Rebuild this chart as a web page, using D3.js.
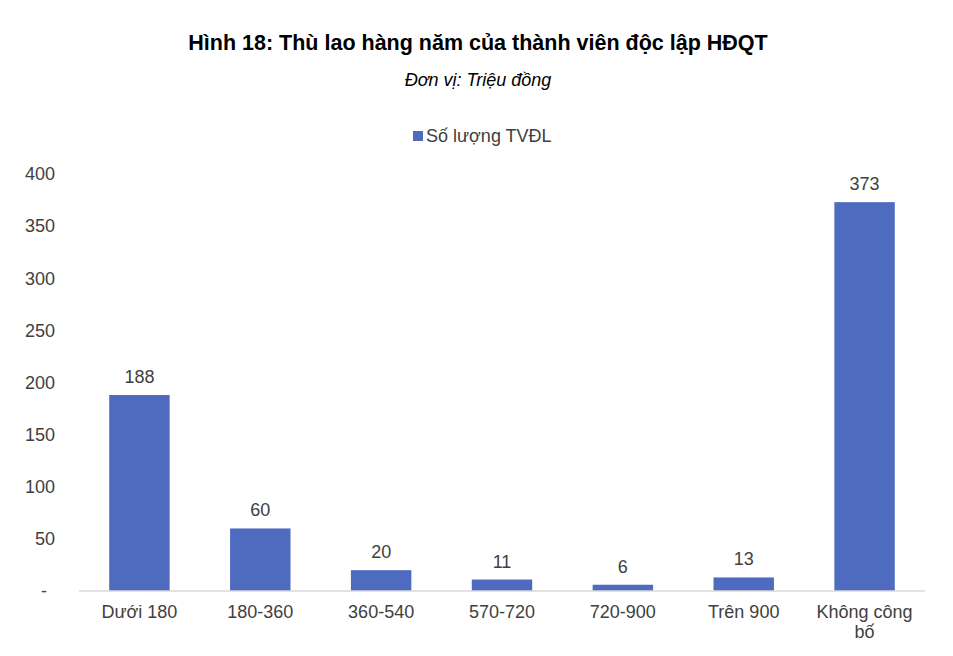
<!DOCTYPE html>
<html lang="vi">
<head>
<meta charset="UTF-8">
<title>Hình 18</title>
<script src="https://d3js.org/d3.v7.min.js"></script>
<style>
  body { margin: 0; background: #fff; }
  text { font-family: "Liberation Sans", Arial, sans-serif; }
</style>
</head>
<body>
<script>
// Dữ liệu
var nhom = ["Dưới 180", "180-360", "360-540", "570-720", "720-900", "Trên 900", "Không công bố"];
var soLuong = [188, 60, 20, 11, 6, 13, 373];
var mocTrucY = [0, 50, 100, 150, 200, 250, 300, 350, 400];

var ancho = 953, alto = 656;
var trai = 79, phai = 925, tren = 174, duoi = 591;
var coChu = 18;

var svg = d3.select("body").append("svg")
  .attr("width", ancho).attr("height", alto);

// Tiêu đề
svg.append("text")
  .attr("x", 478).attr("y", 50)
  .attr("text-anchor", "middle")
  .attr("font-size", 21.5).attr("font-weight", "bold")
  .attr("fill", "#000")
  .text("Hình 18: Thù lao hàng năm của thành viên độc lập HĐQT");

svg.append("text")
  .attr("x", 478).attr("y", 86)
  .attr("text-anchor", "middle")
  .attr("font-size", 18).attr("font-style", "italic")
  .attr("fill", "#000")
  .text("Đơn vị: Triệu đồng");

// Chú thích
svg.append("rect")
  .attr("x", 413).attr("y", 131).attr("width", 10).attr("height", 10)
  .attr("fill", "#4F6BBF");
svg.append("text")
  .attr("x", 426).attr("y", 142)
  .attr("font-size", coChu).attr("fill", "#404040")
  .text("Số lượng TVĐL");

// Thang đo
var x = d3.scaleBand().domain(nhom).range([trai, phai]).paddingInner(0.5).paddingOuter(0.25);
var y = d3.scaleLinear().domain([0, 400]).range([duoi, tren]);

// Trục Y
var trucY = d3.axisLeft(y).tickValues(mocTrucY).tickSize(0)
  .tickFormat(function(d) { return d === 0 ? "-" : d; });
var gY = svg.append("g").attr("transform", "translate(" + (trai - 21) + ",0)").call(trucY);
gY.select(".domain").remove();
gY.selectAll("text").attr("font-size", coChu).attr("fill", "#404040")
  .attr("font-family", "Liberation Sans, Arial, sans-serif")
  .attr("dx", function(d) { return d === 0 ? -8 : 0; });

// Cột
svg.append("g").selectAll("rect")
  .data(nhom)
  .enter().append("rect")
  .attr("x", function(d) { return x(d); })
  .attr("y", function(d, i) { return y(soLuong[i]); })
  .attr("width", x.bandwidth())
  .attr("height", function(d, i) { return y(0) - y(soLuong[i]); })
  .attr("fill", "#4F6BBF");

// Nhãn giá trị
svg.append("g").selectAll("text")
  .data(nhom)
  .enter().append("text")
  .attr("x", function(d) { return x(d) + x.bandwidth() / 2; })
  .attr("y", function(d, i) { return y(soLuong[i]) - 12; })
  .attr("text-anchor", "middle")
  .attr("font-size", coChu).attr("fill", "#404040")
  .text(function(d, i) { return soLuong[i]; });

// Trục X
var trucX = d3.axisBottom(x).tickSize(0).tickSizeOuter(0);
var gX = svg.append("g").attr("transform", "translate(0," + duoi + ")").call(trucX);
gX.select(".domain").attr("stroke", "#D9D9D9").attr("stroke-width", 1.5)
  .attr("d", "M" + trai + ",0H" + phai);
gX.selectAll(".tick text").remove();
gX.selectAll(".tick").each(function(d) {
  var t = d3.select(this).append("text")
    .attr("text-anchor", "middle")
    .attr("font-size", coChu).attr("fill", "#404040")
    .attr("font-family", "Liberation Sans, Arial, sans-serif");
  var dong = d === "Không công bố" ? ["Không công", "bố"] : [d];
  dong.forEach(function(s, k) {
    t.append("tspan").attr("x", 0).attr("y", 27 + k * 20).text(s);
  });
});
</script>
</body>
</html>
